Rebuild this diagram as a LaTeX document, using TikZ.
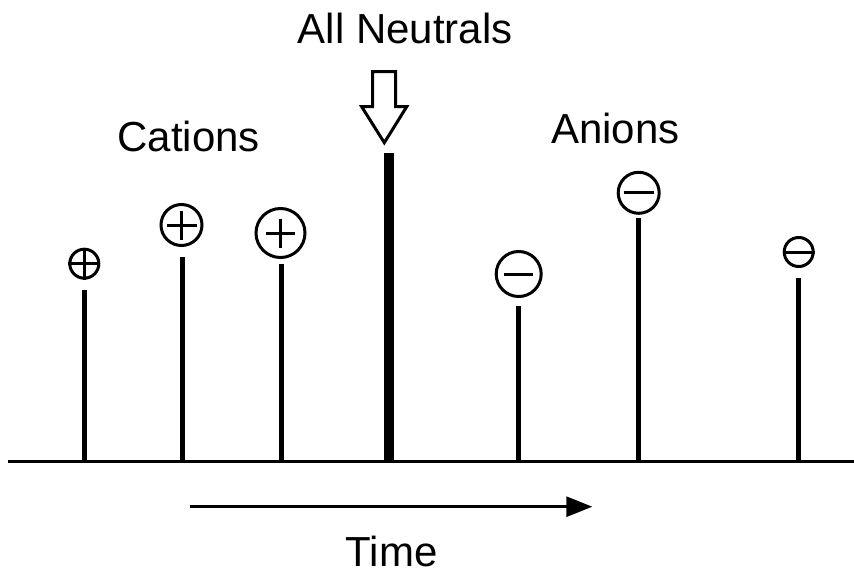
\documentclass[tikz,border=0pt]{standalone}
\usepackage{fontspec}
\setmainfont{Liberation Sans}
\usetikzlibrary{arrows.meta}
\begin{document}
\begin{tikzpicture}[x=1pt,y=-1pt,
  label text/.style={inner sep=0pt,anchor=base,font=\fontsize{42}{50}\selectfont},
  ion/.style={draw,circle,line width=3pt,inner sep=0pt,minimum size=#1},
  sign/.style={line width=3pt},
  stem/.style={line width=5pt},
  axis/.style={line width=3pt}]
\useasboundingbox (0,0) rectangle (854,575);

% labels
\node[label text] (neutral) at (405.3,44) {All Neutrals};
\node[label text] (cat) at (188.8,151.7) {Cations};
\node[label text] (an) at (615.5,143.3) {Anions};
\node[label text] (time) at (391.7,566) {Time};

% baseline
\coordinate (xl) at (8,461.7);
\coordinate (xr) at (854,461.7);
\draw[axis] (xl) -- (xr);

% cation peaks
\node[ion=29pt] (c1) at (84.3,263.7) {};
\draw[sign] (c1.west) -- (c1.east) (c1.north) -- (c1.south);
\draw[stem] (84.3,461.7) -- (84.3,290);

\node[ion=41pt] (c2) at (181.5,225) {};
\draw[sign] (c2.center) +(-15,0) -- +(15,0) (c2.center) +(0,-14.5) -- +(0,14.5);
\draw[stem] (182,461.7) -- (182,256.7);

\node[ion=49pt] (c3) at (280.5,233) {};
\draw[sign] (c3.center) +(-14.5,0) -- +(14.5,0) (c3.center) +(0,-14.5) -- +(0,14.5);
\draw[stem] (281,461.7) -- (281,264);

% neutral peak with open arrow
\draw[line width=10pt] (388.5,461.7) -- (388.5,153);
\draw[line width=3pt,line join=miter]
  (372.7,71.7) -- (395.7,71.7) -- (395.7,106.7) -- (406.7,106.7)
  -- (384.3,142.7) -- (361.7,106.7) -- (372.7,106.7) -- cycle;

% anion peaks
\node[ion=45pt] (a1) at (518.7,274) {};
\draw[sign] (a1.center) +(-14.5,0) -- +(14.5,0);
\draw[stem] (518.5,461.7) -- (518.5,306);

\node[ion=41pt] (a2) at (638.7,192.8) {};
\draw[sign] (a2.center) +(-14.8,0) -- +(14.8,0);
\draw[stem] (638.5,461.7) -- (638.5,218);

\node[ion=29pt] (a3) at (798.7,252) {};
\draw[sign] (a3.west) -- (a3.east);
\draw[stem] (798.5,461.7) -- (798.5,278);

% time arrow
\coordinate (ts) at (190,506.7);
\coordinate (te) at (592.3,506.7);
\draw[line width=3pt,-{Triangle[length=26pt,width=20pt]}] (ts) -- (te);
\end{tikzpicture}
\end{document}
